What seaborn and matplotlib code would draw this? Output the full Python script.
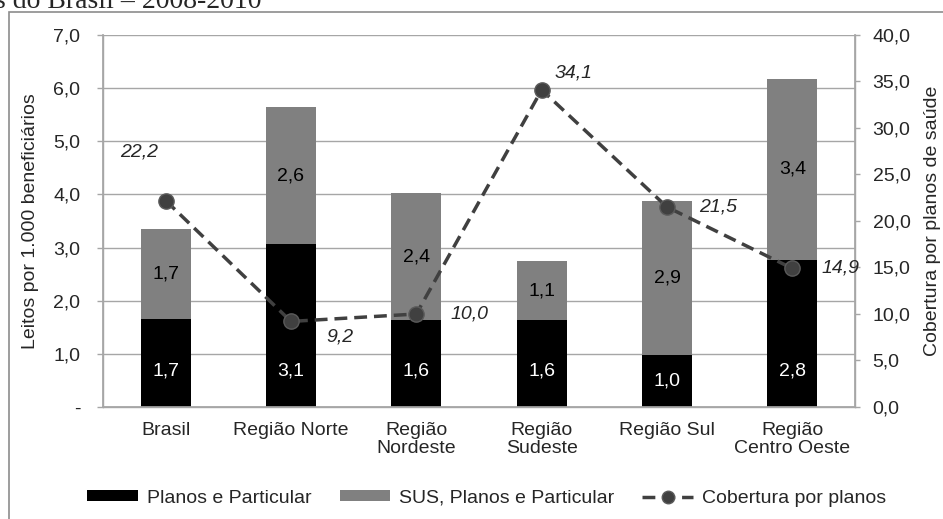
import matplotlib.pyplot as plt
import matplotlib.ticker as mticker
from matplotlib.patches import Patch, Rectangle
from matplotlib.lines import Line2D
import numpy as np
import pandas as pd
import seaborn as sns

categories = ["Brasil", "Região Norte", "Região\nNordeste", "Região\nSudeste",
              "Região Sul", "Região\nCentro Oeste"]
planos_particular = [1.66, 3.07, 1.63, 1.63, 0.97, 2.77]
sus_planos_particular = [1.68, 2.57, 2.39, 1.11, 2.90, 3.41]
cobertura = [22.2, 9.2, 10.0, 34.1, 21.5, 14.9]
# label offsets (points) for the coverage line
cobertura_offsets = [(-19, 35), (35, -11), (38, 0), (23, 12), (37, 0), (35, 0)]

BLACK = "#000000"
GRAY = "#808080"
LINE = "#404040"
GRID = "#a6a6a6"
FS = 14
DASH = (0, (3.7, 2.0))


def comma(v, decimals=1):
    return f"{v:.{decimals}f}".replace(".", ",")


sns.set_theme(style="white")
plt.rcParams["font.family"] = ["Liberation Sans", "DejaVu Sans"]

df = pd.DataFrame({
    "regiao": categories,
    "planos": planos_particular,
    "sus": sus_planos_particular,
})
df["total"] = df["planos"] + df["sus"]

fig = plt.figure(figsize=(9.43, 5.19), dpi=100)
ax = fig.add_axes([0.1092, 0.2158, 0.7975, 0.7168])

sns.barplot(data=df, x="regiao", y="total", color=GRAY, width=0.4,
            saturation=1, linewidth=0, ax=ax, zorder=2)
sns.barplot(data=df, x="regiao", y="planos", color=BLACK, width=0.4,
            saturation=1, linewidth=0, ax=ax, zorder=3)

for i, row in df.iterrows():
    ax.text(i, min(row["planos"] / 2, 0.68), comma(row["planos"]), color="white",
            ha="center", va="center", fontsize=FS, zorder=4)
    ax.text(i, row["planos"] + row["sus"] / 2, comma(row["sus"]), color="black",
            ha="center", va="center", fontsize=FS, zorder=4)

ax.set_ylim(0, 7)
ax.set_xlim(-0.5, len(categories) - 0.5)
ax.yaxis.set_major_locator(mticker.MultipleLocator(1))
ax.yaxis.set_major_formatter(mticker.FuncFormatter(
    lambda v, p: "-" if abs(v) < 1e-9 else comma(v)))
ax.grid(axis="y", color=GRID, linewidth=1, zorder=0)
ax.set_axisbelow(True)
ax.set_xlabel("")
ax.set_ylabel("Leitos por 1.000 beneficiários", fontsize=FS, labelpad=10)
ax.set_xticks(np.arange(len(categories)))
ax.set_xticklabels(categories, fontsize=FS, linespacing=1.05)
ax.tick_params(axis="x", length=0, pad=11)
ax.set_xticks(np.arange(len(categories) + 1) - 0.5, minor=True)
ax.tick_params(axis="x", which="minor", length=4, color=GRID, width=1)
ax.tick_params(axis="y", length=4.3, color=GRID, width=1, labelsize=FS, pad=12)
ax.spines["top"].set_visible(False)
for side in ["left", "bottom", "right"]:
    ax.spines[side].set_color(GRID)
    ax.spines[side].set_linewidth(1)

ax2 = ax.twinx()
x = np.arange(len(categories))
sns.lineplot(x=x, y=cobertura, ax=ax2, color=LINE, linewidth=2.5,
             linestyle=DASH, marker="o", markersize=11,
             markerfacecolor=LINE, markeredgecolor="#5a5a5a", markeredgewidth=1,
             zorder=5)
for xi, v, (dx, dy) in zip(x, cobertura, cobertura_offsets):
    ax2.annotate(comma(v), (xi, v), xytext=(dx, dy), textcoords="offset points",
                 ha="center", va="center", fontsize=FS, style="italic")
ax2.set_ylim(0, 40)
ax2.yaxis.set_major_locator(mticker.MultipleLocator(5))
ax2.yaxis.set_major_formatter(mticker.FuncFormatter(lambda v, p: comma(v)))
ax2.set_ylabel("Cobertura por planos de saúde", fontsize=FS, labelpad=10)
ax2.tick_params(axis="y", length=3.6, color=GRID, width=1, labelsize=FS, pad=9)
ax2.spines["top"].set_visible(False)
for side in ["left", "bottom", "right"]:
    ax2.spines[side].set_color(GRID)

handles = [
    Patch(facecolor=BLACK, edgecolor="none", label="Planos e Particular"),
    Patch(facecolor=GRAY, edgecolor="none", label="SUS, Planos e Particular"),
    Line2D([0], [0], color=LINE, linewidth=2.5, linestyle=DASH, marker="o",
           markersize=9, markerfacecolor=LINE, markeredgecolor="#5a5a5a",
           label="Cobertura por planos"),
]
fig.legend(handles=handles, loc="center", bbox_to_anchor=(0.516, 0.040), ncol=3,
           frameon=False, fontsize=FS, handlelength=2.6, handleheight=0.5,
           handletextpad=0.45, columnspacing=1.45)

fig.patches.append(Rectangle((9 / 943, -0.1), 1.2, 1 - 12 / 519 + 0.1,
                             transform=fig.transFigure, fill=False,
                             edgecolor="#8c8c8c", linewidth=1.2))
fig.text(-5 / 943, 1 - 8 / 519, "s do Brasil – 2008-2010", ha="left",
         va="baseline", fontsize=20, family=["Liberation Serif", "DejaVu Serif"])

fig.savefig("out.png", dpi=100)
